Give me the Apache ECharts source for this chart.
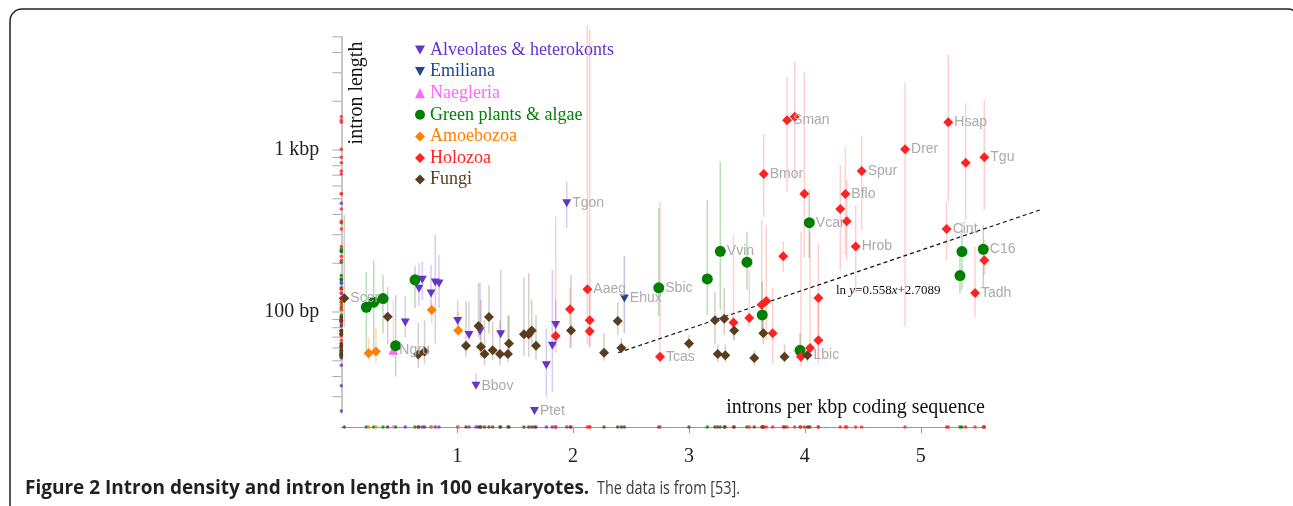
<!DOCTYPE html>
<html><head><meta charset="utf-8">
<script src="https://cdn.jsdelivr.net/npm/echarts@6/dist/echarts.min.js"></script>
<style>html,body{margin:0;padding:0;background:#fff}#c{width:1293px;height:506px}</style>
</head><body><div id="c"></div>
<script>
// rows: [introns per kbp coding sequence, intron length (bp), low, high, label]
const alveolates = [
  [0.552, 86, 70, 126, ''], [0.670, 139, 109, 200, ''], [0.699, 158, 119, 204, ''],
  [0.774, 130, 99, 195, ''], [0.811, 152, 64, 299, ''], [0.843, 150, 106, 225, ''],
  [1.004, 88, 81, 119, ''], [1.102, 72, 67, 116, ''], [1.197, 76, 67, 151, ''],
  [1.375, 73, 70, 182, ''], [1.769, 47, 30, 79, ''], [1.821, 62, 32, 182, ''],
  [1.850, 83, 62, 119, ''], [1.945, 469, 330, 637, 'Tgon'], [1.162, 35, 35, 42, 'Bbov'],
  [1.667, 24.5, 24.5, 26, 'Ptet']
];
const emiliana = [[2.442, 121, 74, 222, 'Ehux']];
const naegleria = [[0.449, 58, 54, 119, 'Ngru']];
const greenPlants = [
  [0.216, 107, 56, 177, ''], [0.280, 115, 56, 209, ''], [0.360, 121, 74, 169, ''],
  [0.636, 158, 106, 192, ''], [0.469, 62, 40, 127, ''], [2.739, 141, 94, 439, 'Sbic'],
  [3.158, 160, 96, 491, ''], [3.270, 237, 103, 847, 'Vvin'], [3.500, 203, 137, 313, ''],
  [3.632, 96, 77, 154, ''], [3.958, 58, 50, 74, ''], [4.038, 356, 215, 566, 'Vcar'],
  [5.355, 236, 137, 356, ''], [5.539, 244, 143, 344, 'C16'], [5.338, 168, 130, 219, '']
];
const amoebozoa = [
  [0.236, 55.6, 50.6, 69, ''], [0.299, 57, 49, 80, ''], [0.780, 103, 85, 116, ''], [1.009, 77, 72, 100, '']
];
const holozoa = [
  [2.750, 53, 48, 480, 'Tcas'], [3.384, 86, 67, 299, ''], [3.520, 92, 81, 182, ''],
  [3.627, 111, 77, 370, ''], [3.667, 117, 67, 344, ''], [3.722, 74, 48, 141, ''],
  [3.813, 221, 177, 272, ''], [3.645, 711, 388, 1256, 'Bmor'], [3.846, 1525, 553, 2835, 'Sman'],
  [3.912, 1605, 653, 3508, ''], [3.995, 537, 215, 3030, ''], [4.305, 432, 182, 808, ''],
  [4.349, 535, 225, 1044, 'Bflo'], [4.361, 363, 209, 653, ''], [4.438, 254, 131, 458, 'Hrob'],
  [4.490, 742, 321, 1220, 'Spur'], [4.116, 122, 48, 267, ''], [4.116, 67, 51, 119, ''],
  [4.044, 60, 57, 313, ''], [3.966, 53, 46, 313, ''], [4.864, 1010, 81, 2593, 'Drer'],
  [5.223, 325, 209, 477, 'Cint'], [5.237, 1483, 480, 3914, 'Hsap'], [5.387, 835, 370, 1942, ''],
  [5.548, 902, 426, 2036, 'Tgu'], [5.468, 131, 93, 253, 'Tadh'], [5.548, 209, 169, 278, ''],
  [2.123, 138, 63, 5910, 'Aaeg'], [1.973, 104, 60, 141, ''], [1.850, 71, 56, 388, ''],
  [2.143, 89, 61, 5505, ''], [2.143, 76, 61, 137, '']
];
const fungi = [
  [0.026, 121.5, 81, 397, 'Scer'], [0.400, 93.5, 63, 143, ''], [0.664, 54.7, 45, 85.5, ''],
  [0.718, 57, 48, 89, ''], [1.076, 62, 53, 116, ''], [1.184, 82, 70, 151, ''],
  [1.205, 61, 52, 119, ''], [1.236, 55, 47, 89, ''], [1.274, 93, 74, 147, ''],
  [1.306, 58, 50.5, 87, ''], [1.369, 55, 47, 89, ''], [1.438, 55, 49, 94.5, ''],
  [1.447, 64, 54, 96, ''], [1.576, 73, 53.5, 164, ''], [1.617, 73, 53, 174, ''],
  [1.643, 77, 63, 119, ''], [1.680, 62, 51, 96, ''], [1.982, 77, 60, 169, ''],
  [2.267, 56, 50, 74, ''], [2.385, 88, 72, 115, ''], [2.416, 60, 57, 69, ''],
  [3.000, 64, 58, 72, ''], [3.224, 89, 63, 133, ''], [3.248, 55, 49, 63, ''],
  [3.304, 91, 72, 141, ''], [3.313, 54, 49, 63, ''], [3.390, 77, 67, 89, ''],
  [3.563, 52, 47, 58, ''], [3.641, 74, 63, 92, ''], [3.824, 53, 49, 63, ''],
  [4.022, 54, 49, 63, 'Lbic']
];
// fitted line endpoints (ln y = 0.558x + 2.7089)
const trendLine = [[2.39, 56.1], [6.05, 432]];
const yTickValues = [30, 40, 50, 60, 70, 80, 90, 100, 200, 300, 400, 500, 600, 700, 800, 900, 1000, 2000, 3000, 4000, 5000];
const xTickValues = [1, 2, 3, 4, 5];

const DOWN = 'path://M0,0L10,0L5,9Z';
const groups = [
  {name: 'Alveolates & heterokonts', rows: alveolates, color: '#6633cc', bar: 'rgba(102,51,204,0.25)', symbol: DOWN, size: [9, 8]},
  {name: 'Emiliana', rows: emiliana, color: '#1a4a8c', bar: 'rgba(26,74,140,0.3)', symbol: DOWN, size: [9, 8]},
  {name: 'Naegleria', rows: naegleria, color: '#ff66ff', bar: 'rgba(255,102,255,0.3)', symbol: 'triangle', size: [10, 9]},
  {name: 'Green plants & algae', rows: greenPlants, color: '#008000', bar: 'rgba(0,128,0,0.28)', symbol: 'circle', size: 11},
  {name: 'Amoebozoa', rows: amoebozoa, color: '#ff8000', bar: 'rgba(255,128,0,0.3)', symbol: 'diamond', size: 10},
  {name: 'Holozoa', rows: holozoa, color: '#ff2222', bar: 'rgba(255,40,40,0.22)', symbol: 'diamond', size: 10},
  {name: 'Fungi', rows: fungi, color: '#5a3d1e', bar: 'rgba(90,61,30,0.25)', symbol: 'diamond', size: 10}
];

const SERIF = 'Liberation Serif';
const series = [];
groups.forEach(g => {
  series.push({
    type: 'custom', name: g.name + '-bars', xAxisIndex: 0, yAxisIndex: 0, silent: true, z: 1,
    data: g.rows.map(r => [r[0], r[2], r[3]]),
    encode: {x: 0, y: [1, 2]},
    renderItem: (p, api) => {
      const a = api.coord([api.value(0), api.value(1)]);
      const b = api.coord([api.value(0), api.value(2)]);
      return {type: 'line', shape: {x1: a[0], y1: a[1], x2: b[0], y2: b[1]}, style: {stroke: g.bar, lineWidth: 1.5}};
    }
  });
});
groups.forEach(g => {
  series.push({
    type: 'scatter', name: g.name, xAxisIndex: 0, yAxisIndex: 0, z: 3,
    symbol: g.symbol, symbolSize: g.size,
    itemStyle: {color: g.color, opacity: 1},
    data: g.rows.map(r => ({value: [r[0], r[1]], name: r[4]})),
    label: {show: true, position: 'right', distance: 1, formatter: p => p.name,
      color: '#aaaaaa', fontFamily: 'Liberation Sans', fontSize: 14},
    emphasis: {disabled: true}
  });
  series.push({
    type: 'scatter', name: g.name + '-rugY', xAxisIndex: 0, yAxisIndex: 0, z: 4, silent: true,
    symbol: 'circle', symbolSize: 3.5, itemStyle: {color: g.color},
    data: g.rows.map(r => [0, r[1]])
  });
  series.push({
    type: 'scatter', name: g.name + '-rugX', xAxisIndex: 1, yAxisIndex: 1, z: 4, silent: true,
    symbol: 'circle', symbolSize: 3.5, itemStyle: {color: g.color},
    data: g.rows.map(r => [r[0], 0])
  });
});
series.push({
  type: 'line', name: 'fit', xAxisIndex: 0, yAxisIndex: 0, z: 2, silent: true,
  data: trendLine, symbol: 'none',
  lineStyle: {color: '#111', width: 1.2, type: [4, 3]}
});
series.push({
  type: 'custom', name: 'yticks', xAxisIndex: 0, yAxisIndex: 0, silent: true, z: 0,
  data: yTickValues.map(v => [0, v]),
  renderItem: (p, api) => {
    const c = api.coord([0, api.value(1)]);
    return {type: 'line', shape: {x1: c[0] - 9, y1: c[1], x2: c[0], y2: c[1]}, style: {stroke: '#aaaaaa', lineWidth: 1}};
  }
});

const chart = echarts.init(document.getElementById('c'), null, {renderer: 'canvas'});
chart.setOption({
  animation: false,
  backgroundColor: '#fff',
  grid: [
    {left: 341.3, width: 707, top: 36.8, bottom: 93},
    {left: 341.3, width: 643.2, top: 417, height: 20}
  ],
  xAxis: [
    {gridIndex: 0, type: 'value', min: 0, max: 6.1, show: false},
    {gridIndex: 1, type: 'value', min: 0, max: 5.55,
      axisLine: {show: true, onZero: true, lineStyle: {color: '#999', width: 1}},
      axisTick: {show: true, customValues: xTickValues, length: 6, lineStyle: {color: '#999'}},
      axisLabel: {customValues: xTickValues, margin: 10, fontFamily: SERIF, fontSize: 20, color: '#222'},
      splitLine: {show: false}}
  ],
  yAxis: [
    {gridIndex: 0, type: 'log', min: 23.8, max: 5000,
      axisLine: {show: true, lineStyle: {color: '#c8c8c8', width: 2}},
      axisTick: {show: false}, minorTick: {show: false}, splitLine: {show: false},
      axisLabel: {margin: 22, fontFamily: SERIF, fontSize: 20, color: '#222',
        formatter: v => Math.abs(v - 100) < 1e-6 ? '100 bp' : (Math.abs(v - 1000) < 1e-6 ? '1 kbp' : ''),
        showMinLabel: false, showMaxLabel: false}},
    {gridIndex: 1, type: 'value', min: -1, max: 1, show: false}
  ],
  legend: {
    orient: 'vertical', left: 410, top: 36, itemGap: 3.6, itemWidth: 10, itemHeight: 10,
    selectedMode: false,
    textStyle: {fontFamily: SERIF, fontSize: 18, lineHeight: 18},
    data: groups.map(g => ({name: g.name, textStyle: {color: g.color}}))
  },
  graphic: [
    {type: 'rect', z: -1, shape: {x: 10, y: 9, width: 1290, height: 620, r: 12},
      style: {fill: 'none', stroke: '#222', lineWidth: 1.5}},
    {type: 'text', x: 357, y: 93, rotation: Math.PI / 2,
      style: {text: 'intron length', fill: '#111', font: '20px "Liberation Serif"', align: 'center', verticalAlign: 'middle'}},
    {type: 'text', x: 985, y: 408,
      style: {text: 'introns per kbp coding sequence', fill: '#111', font: '20px "Liberation Serif"', align: 'right', verticalAlign: 'middle'}},
    {type: 'text', x: 836, y: 291,
      style: {text: '{n|ln }{i|y}{n|=0.558}{i|x}{n|+2.7089}', verticalAlign: 'middle',
        rich: {n: {fontFamily: SERIF, fontSize: 13, fill: '#111'}, i: {fontFamily: SERIF, fontSize: 13, fontStyle: 'italic', fill: '#111'}}}},
    {type: 'text', x: 25, y: 489, scaleX: 1.0,
      style: {text: 'Figure 2 Intron density and intron length in 100 eukaryotes.', verticalAlign: 'middle',
        fontFamily: 'Open Sans', fontWeight: 'bold', fontSize: 19, fill: '#231f20'}},
    {type: 'text', x: 597, y: 489, scaleX: 0.76,
      style: {text: 'The data is from [53].', verticalAlign: 'middle',
        fontFamily: 'Open Sans', fontSize: 19, fill: '#3a3a3a'}}
  ],
  series: series
});
</script></body></html>
